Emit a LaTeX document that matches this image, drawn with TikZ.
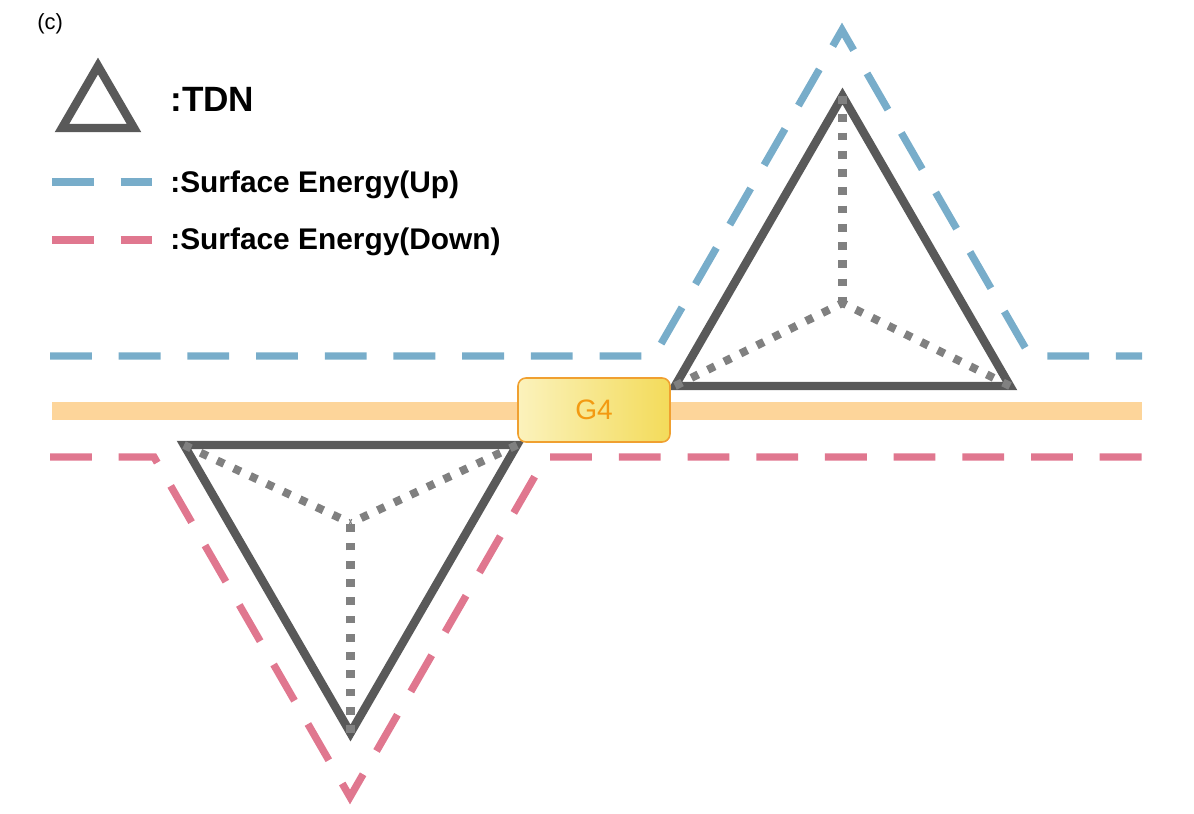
\documentclass[tikz,border=0pt]{standalone}
\usepackage{fontspec}
\setmainfont{Liberation Sans}
\usetikzlibrary{positioning}
\definecolor{tdngray}{HTML}{595959}
\definecolor{linkgray}{HTML}{808080}
\definecolor{upblue}{HTML}{78ADCA}
\definecolor{downred}{HTML}{E0778F}
\definecolor{bandorange}{HTML}{FDD59A}
\definecolor{gateline}{HTML}{F0A030}
\definecolor{gatelight}{HTML}{FBF2BC}
\definecolor{gatedark}{HTML}{F3DB5A}
\definecolor{gatetext}{HTML}{F39A12}
\tikzset{tdn/.style={draw=tdngray, line width=4.8pt, line join=miter},
        tdnlink/.style={draw=linkgray, line width=4.6pt, dash pattern=on 4.4pt off 6pt},
        energyup/.style={draw=upblue, line width=4.2pt, dash pattern=on 23.8pt off 15.3pt},
        energydown/.style={draw=downred, line width=4.2pt, dash pattern=on 23.8pt off 15.3pt},
        plane/.style={draw=bandorange, line width=10.2pt},
        gate/.style={rectangle, rounded corners=4.5pt, draw=gateline, line width=0.9pt,
                     left color=gatelight, right color=gatedark, text=gatetext,
                     minimum width=3.04cm, minimum height=1.28cm, inner sep=0pt,
                     font=\fontsize{16pt}{19pt}\selectfont},
        legendtext/.style={anchor=base west, inner sep=0pt,
                     font=\bfseries\fontsize{17pt}{20pt}\selectfont},
        }

\begin{document}
\begin{tikzpicture}[x=0.02cm, y=-0.02cm]
    \useasboundingbox (0,0) rectangle (1194,814);

    \node[anchor=base west, inner sep=0pt, font=\fontsize{12.5pt}{15pt}\selectfont] (label) at (37,30) {(c)};

    \coordinate (lgA) at (62,128);
    \coordinate (lgB) at (134,128);
    \coordinate (lgC) at (98,66);
    \draw[tdn] (lgA) -- (lgB) -- (lgC) -- cycle;
    \node[anchor=base west, inner sep=0pt, font=\bfseries\fontsize{20pt}{24pt}\selectfont] (tdnname) at (170,112) {:TDN};

    \coordinate (upS) at (52,182);
    \coordinate (upE) at (152,182);
    \draw[energyup] (upS) -- (upE);
    \node[legendtext] (uptext) at (170,193) {:Surface Energy(Up)};

    \coordinate (downS) at (52,240);
    \coordinate (downE) at (152,240);
    \draw[energydown] (downS) -- (downE);
    \node[legendtext] (downtext) at (170,250) {:Surface Energy(Down)};

    \coordinate (planeL) at (52,411);
    \coordinate (planeR) at (1142,411);
    \draw[plane] (planeL) -- (planeR);

    \draw[energyup] (50,356) -- (654,356) -- (842,30) -- (1030,356) -- (1142,356);
    \draw[energydown] (50,457) -- (154,457) -- (350,797) -- (546,457) -- (1142,457);

    \coordinate (tA) at (675,386);
    \coordinate (tB) at (1010,386);
    \coordinate (tC) at (842.5,96);
    \coordinate (tM) at (842.5,303);
    \draw[tdn] (tA) -- (tB) -- (tC) -- cycle;
    \draw[tdnlink] (tC) -- (tM);
    \draw[tdnlink] (tA) -- (tM);
    \draw[tdnlink] (tB) -- (tM);

    \coordinate (bA) at (184,445);
    \coordinate (bB) at (517,445);
    \coordinate (bC) at (350.5,733);
    \coordinate (bM) at (350.5,523);
    \draw[tdn] (bA) -- (bB) -- (bC) -- cycle;
    \draw[tdnlink] (bA) -- (bM);
    \draw[tdnlink] (bB) -- (bM);
    \draw[tdnlink] (bC) -- (bM);

    \node[gate] (g4) at (594,410) {G4};
\end{tikzpicture}
\end{document}
